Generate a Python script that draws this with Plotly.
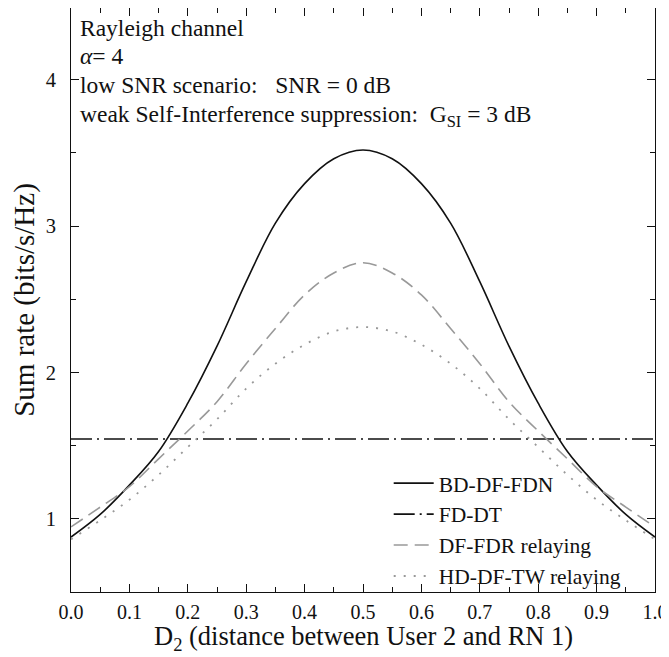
import plotly.graph_objects as go

# Distance D2 (x axis)
d2 = [0.0, 0.05, 0.1, 0.15, 0.2, 0.25, 0.3, 0.35, 0.4, 0.45, 0.5,
      0.55, 0.6, 0.65, 0.7, 0.75, 0.8, 0.85, 0.9, 0.95, 1.0]

bd_df_fdn = [0.875, 1.03, 1.23, 1.46, 1.79, 2.18, 2.62, 3.02, 3.29, 3.46, 3.52,
             3.46, 3.29, 3.02, 2.62, 2.18, 1.79, 1.46, 1.23, 1.03, 0.875]
fd_dt = [1.545] * 21
df_fdr = [0.945, 1.08, 1.22, 1.41, 1.60, 1.80, 2.06, 2.30, 2.53, 2.68, 2.75,
          2.68, 2.53, 2.30, 2.06, 1.80, 1.60, 1.41, 1.22, 1.08, 0.945]
hd_df_tw = [0.86, 0.99, 1.13, 1.30, 1.49, 1.68, 1.89, 2.06, 2.19, 2.28, 2.31,
            2.28, 2.19, 2.06, 1.89, 1.68, 1.49, 1.30, 1.13, 0.99, 0.86]

x_ticks = [0.0, 0.1, 0.2, 0.3, 0.4, 0.5, 0.6, 0.7, 0.8, 0.9, 1.0]
x_ticklabels = ["0.0", "0.1", "0.2", "0.3", "0.4", "0.5", "0.6", "0.7", "0.8", "0.9", "1.0"]
y_ticks = [1, 2, 3, 4]
y_ticklabels = ["1", "2", "3", "4"]

x_title = "D<sub>2</sub> (distance between User 2 and RN 1)"
y_title = "Sum rate (bits/s/Hz)"

info_lines = [
    "Rayleigh channel",
    "<i>α</i>= 4",
    "low SNR scenario:   SNR = 0 dB",
    "weak Self-Interference suppression:  G<sub>SI</sub> = 3 dB",
]

FONT = "Liberation Serif"

fig = go.Figure()
fig.add_trace(go.Scatter(x=d2, y=bd_df_fdn, mode="lines", name="BD-DF-FDN",
                         line=dict(color="#111111", width=1.6, shape="spline")))
fig.add_trace(go.Scatter(x=d2, y=fd_dt, mode="lines", name="FD-DT",
                         line=dict(color="#111111", width=1.6, dash="21px,5px,2px,5px")))
fig.add_trace(go.Scatter(x=d2, y=df_fdr, mode="lines", name="DF-FDR relaying",
                         line=dict(color="#999999", width=1.6, dash="14px,7px", shape="spline")))
fig.add_trace(go.Scatter(x=d2, y=hd_df_tw, mode="lines", name="HD-DF-TW relaying",
                         line=dict(color="#999999", width=1.8, dash="2px,8px", shape="spline")))

for i, t in enumerate(info_lines):
    fig.add_annotation(xref="paper", yref="paper", x=0.012, y=0.992 - i * 0.0492,
                       xanchor="left", yanchor="top", text=t, showarrow=False,
                       font=dict(family=FONT, size=23.5, color="#111111"))

# x-axis title placed explicitly below the tick labels
fig.add_annotation(xref="paper", yref="paper", x=0.5, y=-0.0796,
                   xanchor="center", yanchor="middle", text=x_title, showarrow=False,
                   font=dict(family=FONT, size=26.5, color="#111111"))

fig.update_layout(
    width=661, height=649,
    margin=dict(l=63, r=14, t=0, b=65),
    paper_bgcolor="white", plot_bgcolor="white",
    font=dict(family=FONT, color="#111111"),
    showlegend=True,
    legend=dict(x=0.544, y=-0.008, xanchor="left", yanchor="bottom",
                bgcolor="rgba(0,0,0,0)", font=dict(family=FONT, size=21.5, color="#111111"),
                tracegroupgap=0, itemwidth=40),
    xaxis=dict(range=[0, 1], tickmode="array", tickvals=x_ticks, ticktext=x_ticklabels,
               ticks="inside", ticklen=8, tickwidth=1, tickcolor="#111111",
               minor=dict(dtick=0.05, ticks="inside", ticklen=5, tickcolor="#111111"),
               showline=True, linecolor="#111111", linewidth=1, mirror="allticks",
               showgrid=False, zeroline=False, ticklabelstandoff=2,
               tickfont=dict(family=FONT, size=20)),
    yaxis=dict(range=[0.5, 4.49], tickmode="array", tickvals=y_ticks, ticktext=y_ticklabels,
               ticks="inside", ticklen=8, tickwidth=1, tickcolor="#111111",
               minor=dict(dtick=0.5, tick0=0.5, ticks="inside", ticklen=5, tickcolor="#111111"),
               showline=True, linecolor="#111111", linewidth=1, mirror="allticks",
               showgrid=False, zeroline=False, ticklabelstandoff=10,
               tickfont=dict(family=FONT, size=20.5),
               title=dict(text=y_title, font=dict(family=FONT, size=29), standoff=12)),
)

fig.write_html("out.html")
